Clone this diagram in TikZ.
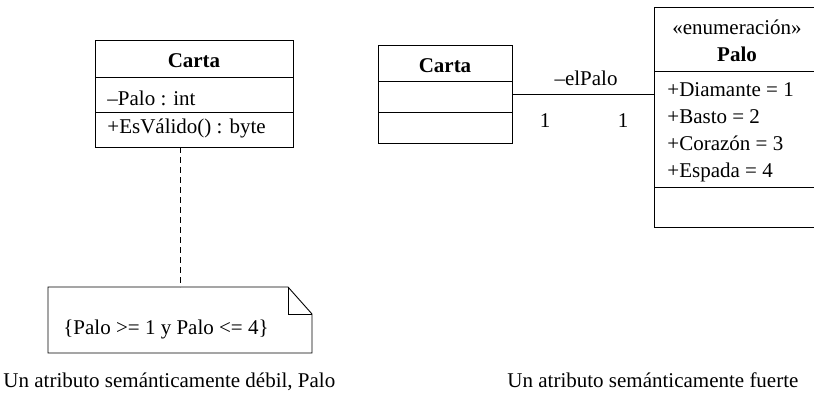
\documentclass[tikz,border=0pt]{standalone}
\usepackage{fontspec}
\setmainfont{Liberation Serif}
\begin{document}
\begin{tikzpicture}[x=1pt,y=-1pt,
  line width=0.9pt,
  every node/.style={font=\fontsize{21}{25}\selectfont, inner sep=0pt},
  txt/.style={anchor=base west},
  ctxt/.style={anchor=base},
  btxt/.style={anchor=base, font=\fontsize{21}{25}\selectfont\bfseries}]
\useasboundingbox (0,0) rectangle (814,393);

% ---- Left: weak attribute ----
\node[draw, anchor=north west, minimum width=198pt, minimum height=107pt] (c1) at (95,40) {};
\draw (95,77) -- (293,77);
\draw (95,112) -- (293,112);
\node[btxt] (c1t) at (194,68) {Carta};
\node[txt] (c1a) at (107,106) {–Palo : int};
\node[txt] (c1m) at (107,134) {+EsVálido() : byte};

% note
\draw (48,287) -- (288,287) -- (312,314) -- (312,353) -- (48,353) -- cycle;
\draw (288,287) -- (288,314) -- (312,314);
\node[ctxt] (nt) at (166,334) {\{Palo >= 1 y Palo <= 4\}};
\coordinate (nTop) at (180,287);
\coordinate (cBot) at (180,147);
\draw[dash pattern=on 6pt off 4pt, line width=0.7pt] (cBot) -- (nTop);

\node[anchor=base west] (cap1) at (3,387) {Un atributo semánticamente débil, Palo};

% ---- Right: strong attribute ----
\node[draw, anchor=north west, minimum width=134pt, minimum height=98pt] (c2) at (378,45) {};
\draw (378,81) -- (512,81);
\draw (378,112) -- (512,112);
\node[btxt] (c2t) at (445,73) {Carta};

\draw (820,7) -- (654,7) -- (654,227) -- (820,227);
\draw (654,71) -- (820,71);
\draw (654,187) -- (820,187);
\coordinate (pL) at (654,94);
\coordinate (cR) at (512,94);
\draw (cR) -- (pL);
\node[ctxt] (role) at (586,86) {–elPalo};
\node[ctxt] (m1) at (545,128) {1};
\node[ctxt] (m2) at (623,128) {1};

\node[ctxt] (st) at (737,35) {«enumeración»};
\node[btxt] (pt) at (737,62) {Palo};
\node[txt] (e1) at (667,97) {+Diamante = 1};
\node[txt] (e2) at (667,124) {+Basto = 2};
\node[txt] (e3) at (667,150) {+Corazón = 3};
\node[txt] (e4) at (667,177) {+Espada = 4};

\node[anchor=base west] (cap2) at (507,387) {Un atributo semánticamente fuerte};
\end{tikzpicture}
\end{document}
